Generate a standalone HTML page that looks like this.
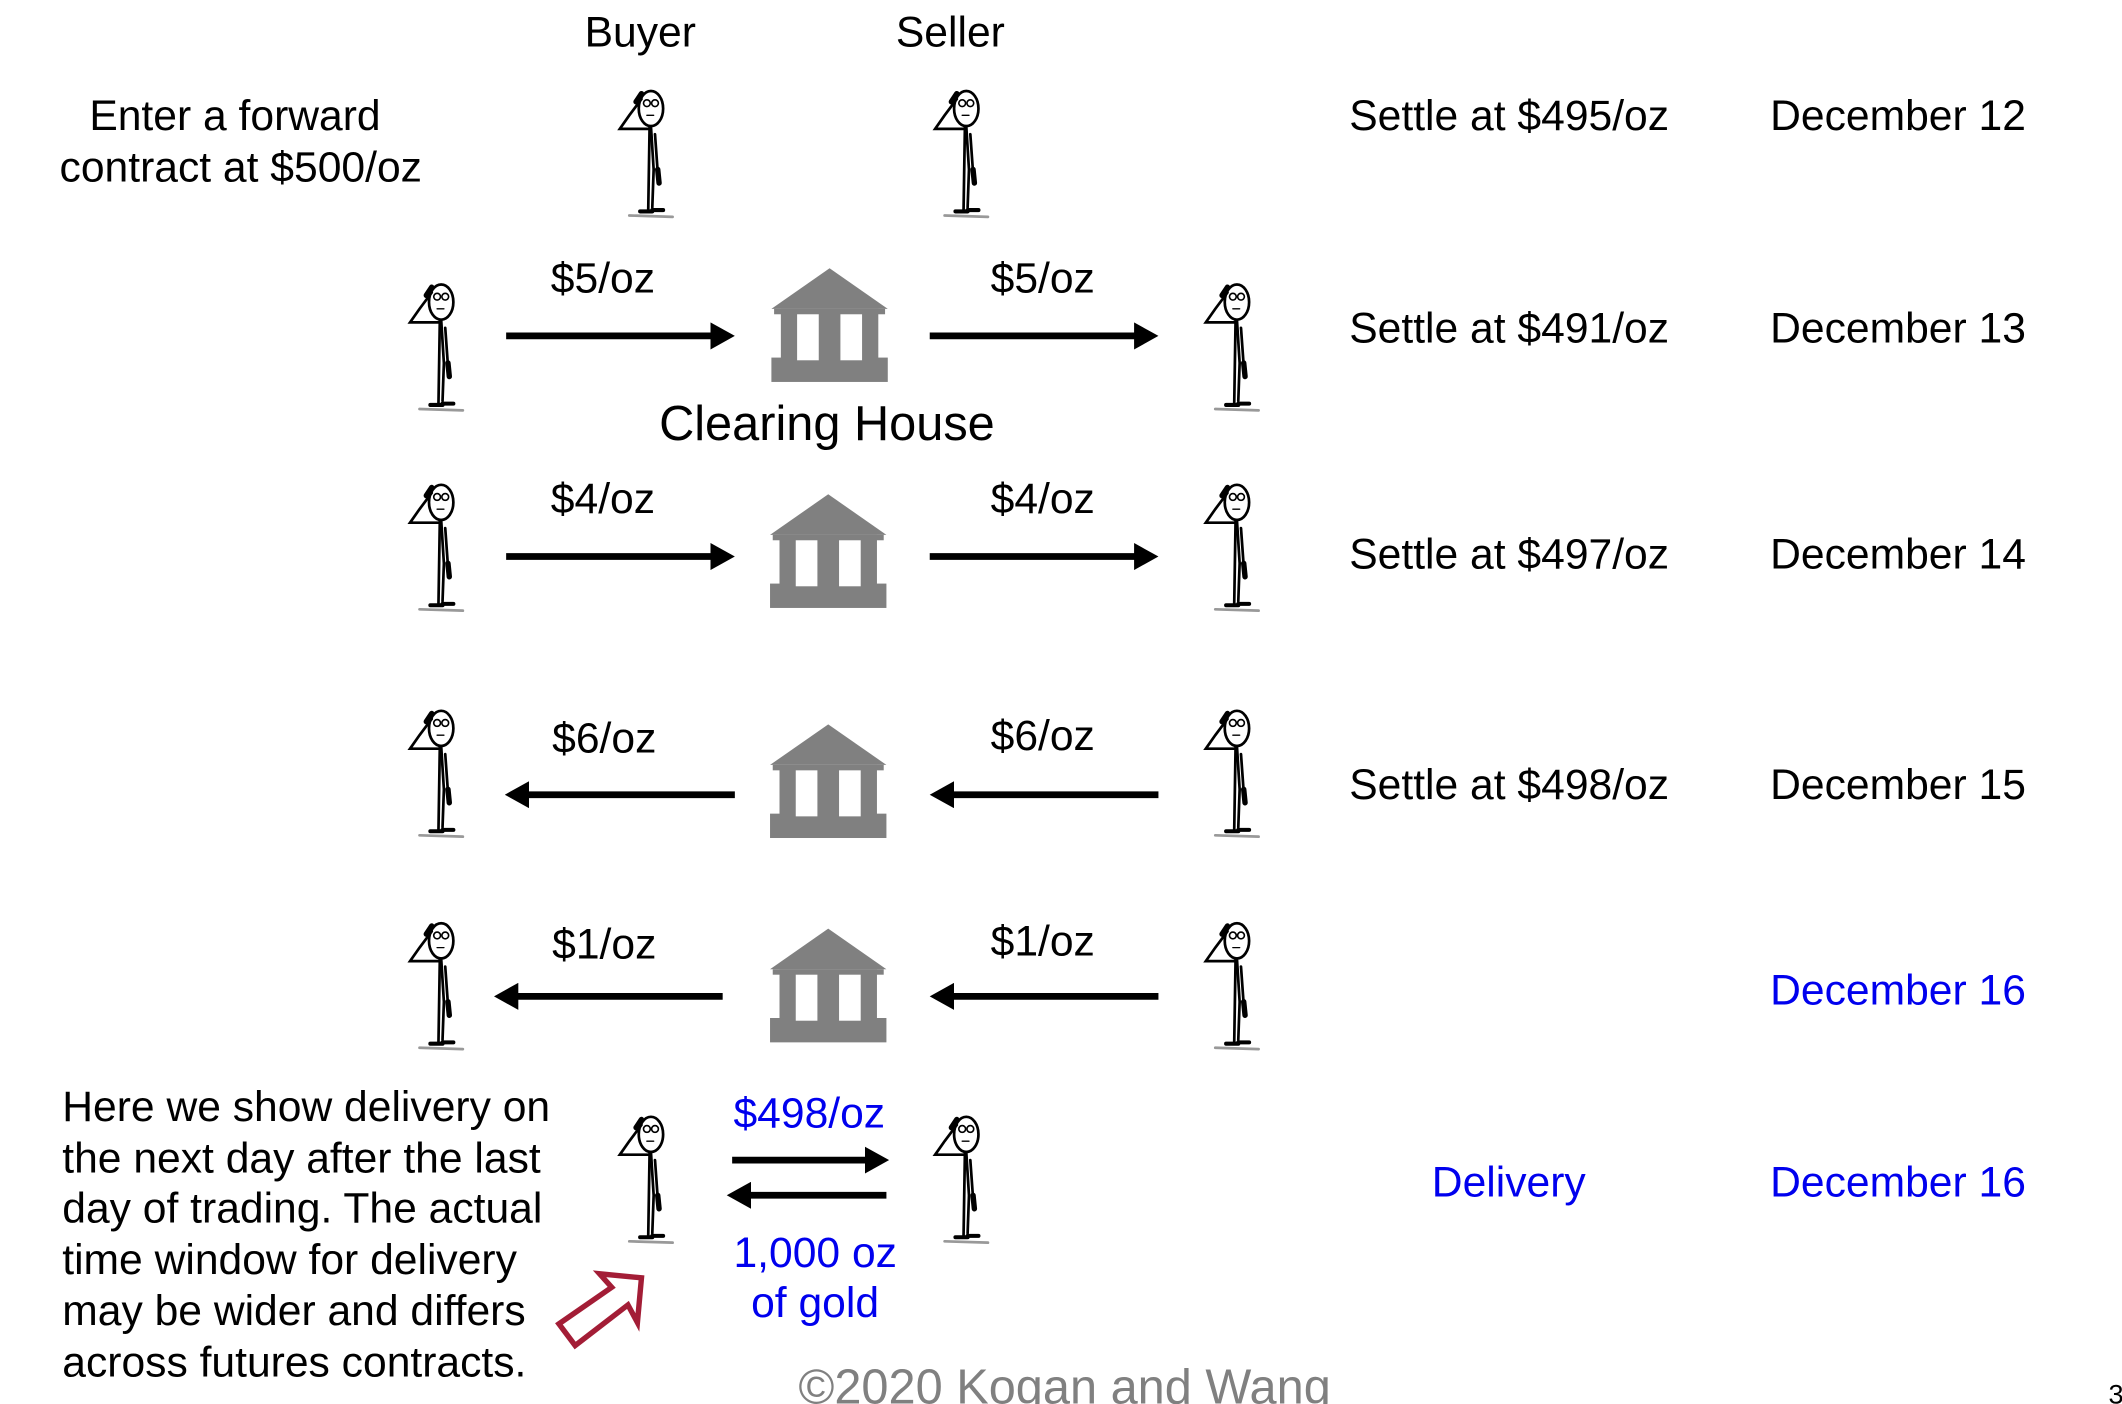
<!DOCTYPE html>
<html><head><meta charset="utf-8"><style>
html,body{margin:0;padding:0;background:#fff;width:2122px;height:1404px;overflow:hidden}
text{font-family:"Liberation Sans",Arial,sans-serif;font-size:31.5px;fill:#000}
.b{fill:#0000ee}
</style></head><body>
<svg width="2122" height="1404" viewBox="0 0 1568 1037" xmlns="http://www.w3.org/2000/svg">
<defs>
<g id="fig" fill="none" stroke="#000" stroke-width="2" stroke-linecap="round">
  <ellipse cx="24" cy="15" rx="9" ry="13" fill="#fff"/>
  <circle cx="21" cy="11" r="2.5" stroke-width="1.2"/><circle cx="27" cy="11" r="2.5" stroke-width="1.2"/>
  <path d="M21 20 L26 20" stroke-width="1"/>
  <path d="M17 8 L8 20 L1 30 L22 30"/>
  <path d="M17 4 L13 10" stroke-width="4"/>
  <path d="M23 28 L22 90"/>
  <path d="M24 28 L26 60 L25 88"/>
  <path d="M27 34 L29 62"/>
  <path d="M29 60 L30 70" stroke-width="4"/>
  <path d="M16 91 L25 91 M25 90 L33 90" stroke-width="3"/>
  <path d="M8 94 L40 95" stroke="#999" stroke-width="2"/>
</g>
<g id="bank" fill="#808080">
  <polygon points="43,0 86,30 0,30"/>
  <rect x="2" y="30" width="82" height="4"/>
  <rect x="7" y="30" width="72" height="44"/>
  <rect x="0" y="66" width="86" height="18"/>
  <rect x="19" y="34" width="16" height="34" fill="#fff"/>
  <rect x="51" y="34" width="16" height="34" fill="#fff"/>
</g>
<marker id="ah" markerWidth="3.6" markerHeight="4" refX="1" refY="2" orient="auto" markerUnits="strokeWidth">
  <path d="M0,0 L3.6,2 L0,4 z" fill="#000"/>
</marker>
</defs>

<text x="432" y="34">Buyer</text>
<text x="662" y="34">Seller</text>
<text x="66" y="96">Enter a forward</text>
<text x="44" y="134">contract at $500/oz</text>

<use href="#fig" x="457" y="65"/>
<use href="#fig" x="690" y="65"/>

<text x="997" y="96">Settle at $495/oz</text><text x="1308" y="96">December 12</text>
<text x="997" y="253">Settle at $491/oz</text><text x="1308" y="253">December 13</text>
<text x="997" y="420">Settle at $497/oz</text><text x="1308" y="420">December 14</text>
<text x="997" y="590">Settle at $498/oz</text><text x="1308" y="590">December 15</text>
<text x="1308" y="742" class="b">December 16</text>
<text x="1058" y="884" class="b">Delivery</text>
<text x="1308" y="884" class="b">December 16</text>

<use href="#fig" x="302" y="208"/><use href="#fig" x="890" y="208"/>
<use href="#bank" x="570" y="198"/>
<text x="407" y="216">$5/oz</text><text x="732" y="216">$5/oz</text>
<line x1="374" y1="248" x2="530" y2="248" stroke="#000" stroke-width="5" marker-end="url(#ah)"/>
<line x1="687" y1="248" x2="843" y2="248" stroke="#000" stroke-width="5" marker-end="url(#ah)"/>
<text x="487" y="325" style="font-size:36px">Clearing House</text>

<use href="#fig" x="302" y="356"/><use href="#fig" x="890" y="356"/>
<use href="#bank" x="569" y="365"/>
<text x="407" y="379">$4/oz</text><text x="732" y="379">$4/oz</text>
<line x1="374" y1="411" x2="530" y2="411" stroke="#000" stroke-width="5" marker-end="url(#ah)"/>
<line x1="687" y1="411" x2="843" y2="411" stroke="#000" stroke-width="5" marker-end="url(#ah)"/>

<use href="#fig" x="302" y="523"/><use href="#fig" x="890" y="523"/>
<use href="#bank" x="569" y="535"/>
<text x="408" y="556">$6/oz</text><text x="732" y="554">$6/oz</text>
<line x1="543" y1="587" x2="386" y2="587" stroke="#000" stroke-width="5" marker-end="url(#ah)"/>
<line x1="856" y1="587" x2="700" y2="587" stroke="#000" stroke-width="5" marker-end="url(#ah)"/>

<use href="#fig" x="302" y="680"/><use href="#fig" x="890" y="680"/>
<use href="#bank" x="569" y="686"/>
<text x="408" y="708">$1/oz</text><text x="732" y="706">$1/oz</text>
<line x1="534" y1="736" x2="378" y2="736" stroke="#000" stroke-width="5" marker-end="url(#ah)"/>
<line x1="856" y1="736" x2="700" y2="736" stroke="#000" stroke-width="5" marker-end="url(#ah)"/>

<use href="#fig" x="457" y="823"/><use href="#fig" x="690" y="823"/>
<text x="542" y="833" class="b">$498/oz</text>
<line x1="541" y1="857" x2="644" y2="857" stroke="#000" stroke-width="5" marker-end="url(#ah)"/>
<line x1="655" y1="883" x2="550" y2="883" stroke="#000" stroke-width="5" marker-end="url(#ah)"/>
<text x="542" y="936" class="b">1,000 oz</text>
<text x="555" y="973" class="b">of gold</text>

<text x="46" y="828">Here we show delivery on</text>
<text x="46" y="866">the next day after the last</text>
<text x="46" y="903">day of trading. The actual</text>
<text x="46" y="941">time window for delivery</text>
<text x="46" y="979">may be wider and differs</text>
<text x="46" y="1017">across futures contracts.</text>

<polygon points="413,978 452,951 443,941 474,944 471,977 464,964 425,994" fill="none" stroke="#a31d36" stroke-width="4"/>

<text x="590" y="1037" style="fill:#808080;font-size:36px">©2020 Kogan and Wang</text>
<text x="1558" y="1037" style="font-size:20px">3</text>
</svg>
</body></html>
